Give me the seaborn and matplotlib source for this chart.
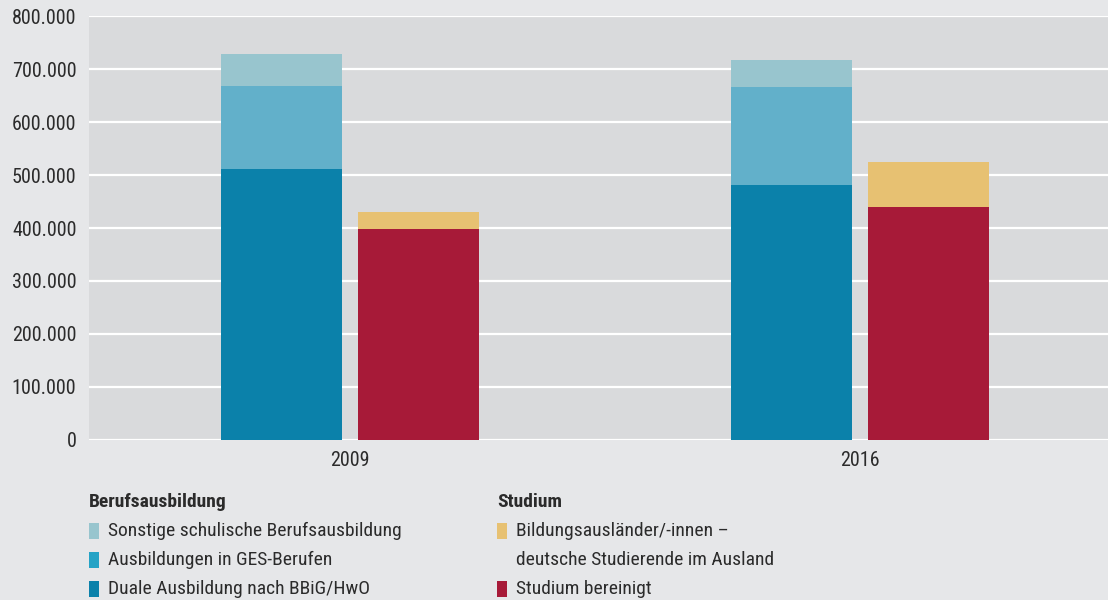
import matplotlib
matplotlib.use("Agg")
import matplotlib.pyplot as plt
import matplotlib.patches as mpatches
import matplotlib.ticker as mticker
import pandas as pd
import seaborn as sns

# ---------------------------------------------------------------------------
# Data
# ---------------------------------------------------------------------------
YEARS = ["2009", "2016"]
GROUPS = ["Berufsausbildung", "Studium"]

dual = [511000, 481000]          # Duale Ausbildung nach BBiG/HwO
ges = [157000, 185000]           # Ausbildungen in GES-Berufen
sonstige = [60000, 51000]        # Sonstige schulische Berufsausbildung
studium = [398000, 440000]       # Studium bereinigt
bildungsausl = [32000, 84000]    # Bildungsausländer/-innen - deutsche Studierende im Ausland

C_SONST = "#98C5CE"
C_GES = "#62B0CA"
C_DUAL = "#0B81AA"
C_BILD = "#E7C172"
C_STUD = "#A71A38"
C_GES_LEG = "#25A3C6"

BG_FIG = "#E6E7E9"
BG_AX = "#D9DADC"
TXT = "#2B2B2B"

FONT = ["Liberation Sans Narrow", "Roboto Condensed", "Roboto", "DejaVu Sans"]
FS = 14

# ---------------------------------------------------------------------------
# Layers: cumulative heights, drawn from the top layer down
# ---------------------------------------------------------------------------
rows = []
for i, y in enumerate(YEARS):
    rows.append(dict(layer=0, year=y, group=GROUPS[0], value=dual[i] + ges[i] + sonstige[i]))
    rows.append(dict(layer=0, year=y, group=GROUPS[1], value=studium[i] + bildungsausl[i]))
    rows.append(dict(layer=1, year=y, group=GROUPS[0], value=dual[i] + ges[i]))
    rows.append(dict(layer=1, year=y, group=GROUPS[1], value=studium[i]))
    rows.append(dict(layer=2, year=y, group=GROUPS[0], value=dual[i]))
df = pd.DataFrame(rows)

layer_colors = {
    0: {GROUPS[0]: C_SONST, GROUPS[1]: C_BILD},
    1: {GROUPS[0]: C_GES, GROUPS[1]: C_STUD},
    2: {GROUPS[0]: C_DUAL, GROUPS[1]: C_STUD},
}

sns.set_theme(style="white")
plt.rcParams["font.family"] = FONT

fig = plt.figure(figsize=(11.08, 6.0), dpi=100, facecolor=BG_FIG)
ax = fig.add_axes([0.0803, 0.2667, 0.9197, 0.7066])
ax.set_facecolor(BG_AX)

for layer in [0, 1, 2]:
    sns.barplot(
        data=df[df["layer"] == layer], x="year", y="value",
        hue="group", hue_order=GROUPS, order=YEARS,
        palette=layer_colors[layer], width=0.536, gap=0.115,
        dodge=True, errorbar=None, saturation=1, linewidth=0,
        legend=False, ax=ax, zorder=3,
    )

ax.set_xlim(-0.512, 1.486)
ax.set_ylim(0, 800000)
ax.yaxis.set_major_locator(mticker.MultipleLocator(100000))
ax.yaxis.set_major_formatter(
    mticker.FuncFormatter(lambda v, p: f"{int(v):,}".replace(",", "."))
)
ax.grid(axis="y", color="white", linewidth=1.6, zorder=1)
ax.set_axisbelow(True)
for s in ax.spines.values():
    s.set_visible(False)
ax.set_xlabel("")
ax.set_ylabel("")
ax.tick_params(axis="both", length=0, labelsize=FS + 0.5, labelcolor=TXT)
ax.tick_params(axis="y", pad=9)
ax.tick_params(axis="x", pad=8)

# ---------------------------------------------------------------------------
# Legend (two columns with bold headers)
# ---------------------------------------------------------------------------
def header(x, y, text):
    fig.text(x / 1108, 1 - y / 600, text, fontsize=FS, fontweight="bold",
             color=TXT, va="center", ha="left")


def item(x, y, color, text):
    if color is not None:
        fig.patches.append(mpatches.Rectangle(
            (x / 1108, 1 - (y + 8) / 600), 10 / 1108, 16 / 600,
            transform=fig.transFigure, facecolor=color, edgecolor="none"))
    fig.text((x + 19) / 1108, 1 - y / 600, text, fontsize=FS,
             color=TXT, va="center", ha="left")


header(89, 502, "Berufsausbildung")
item(89, 531, C_SONST, "Sonstige schulische Berufsausbildung")
item(89, 560, C_GES_LEG, "Ausbildungen in GES-Berufen")
item(89, 589, C_DUAL, "Duale Ausbildung nach BBiG/HwO")

header(497, 502, "Studium")
item(497, 531, C_BILD, "Bildungsausländer/-innen –")
item(497, 560, None, "deutsche Studierende im Ausland")
item(497, 589, C_STUD, "Studium bereinigt")

fig.savefig("out.png", dpi=100, facecolor=BG_FIG)
